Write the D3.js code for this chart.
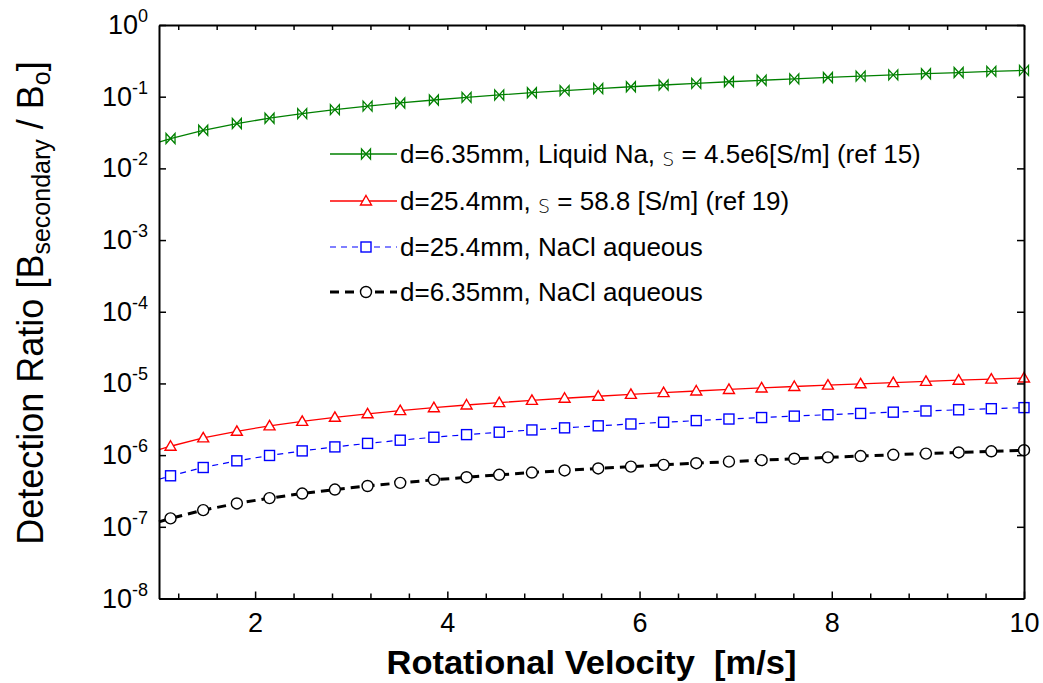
<!DOCTYPE html>
<html>
<head>
<meta charset="utf-8">
<script src="https://cdn.jsdelivr.net/npm/d3@7"></script>
<style>
  body { margin: 0; background: #fff; }
  svg { font-family: "Liberation Sans", Arial, sans-serif; }
</style>
</head>
<body>
<svg width="1043" height="683"></svg>
<script>
// Rotational velocity [m/s] of each plotted point (first one has no marker)
var velocity = [1.00, 1.12, 1.46, 1.81, 2.15, 2.49, 2.83, 3.17, 3.51, 3.86, 4.20, 4.54, 4.88, 5.22,
  5.57, 5.91, 6.25, 6.59, 6.93, 7.27, 7.61, 7.96, 8.30, 8.64, 8.98, 9.32, 9.66, 10.00];

// Detection ratio for each curve
var liquidNa = [0.0233, 0.0261, 0.0340, 0.0422, 0.0501, 0.0580, 0.0659, 0.0739, 0.0818, 0.0899,
  0.0979, 0.1058, 0.1137, 0.1216, 0.1298, 0.1377, 0.1456, 0.1535, 0.1615, 0.1694, 0.1773,
  0.1855, 0.1934, 0.2013, 0.2092, 0.2172, 0.2251, 0.2330];
var ref19 = [1.19e-6, 1.33e-6, 1.74e-6, 2.15e-6, 2.56e-6, 2.96e-6, 3.37e-6, 3.77e-6, 4.18e-6,
  4.59e-6, 5.00e-6, 5.40e-6, 5.81e-6, 6.21e-6, 6.63e-6, 7.03e-6, 7.44e-6, 7.84e-6, 8.25e-6,
  8.65e-6, 9.06e-6, 9.47e-6, 9.88e-6, 1.028e-5, 1.069e-5, 1.109e-5, 1.150e-5, 1.190e-5];
var nacl254 = [4.60e-7, 5.15e-7, 6.72e-7, 8.33e-7, 9.89e-7, 1.145e-6, 1.302e-6, 1.458e-6,
  1.615e-6, 1.776e-6, 1.932e-6, 2.088e-6, 2.245e-6, 2.401e-6, 2.562e-6, 2.719e-6, 2.875e-6,
  3.031e-6, 3.188e-6, 3.344e-6, 3.501e-6, 3.662e-6, 3.818e-6, 3.974e-6, 4.131e-6, 4.287e-6,
  4.444e-6, 4.600e-6];
var nacl635 = [1.170e-7, 1.310e-7, 1.708e-7, 2.118e-7, 2.516e-7, 2.913e-7, 3.311e-7, 3.709e-7,
  4.107e-7, 4.516e-7, 4.914e-7, 5.312e-7, 5.710e-7, 6.107e-7, 6.517e-7, 6.915e-7, 7.313e-7,
  7.710e-7, 8.108e-7, 8.506e-7, 8.904e-7, 9.313e-7, 9.711e-7, 1.011e-6, 1.051e-6, 1.090e-6,
  1.130e-6, 1.170e-6];

// Ticks
var xTickValues = [2, 4, 6, 8, 10];
var xMinorTickValues = [1.2, 1.6, 2.4, 2.8, 3.2, 3.6, 4.4, 4.8, 5.2, 5.6, 6.4, 6.8, 7.2, 7.6,
  8.4, 8.8, 9.2, 9.6];
var yTickExponents = [0, -1, -2, -3, -4, -5, -6, -7, -8];

// Legend entries (the conductivity symbol is drawn as a small thin S, as in the picture)
var legendPre = ["d=6.35mm, Liquid Na, ", "d=25.4mm, ", "d=25.4mm, NaCl aqueous", "d=6.35mm, NaCl aqueous"];
var legendSym = ["S", "S", "", ""];
var legendPost = [" = 4.5e6[S/m] (ref 15)", " = 58.8 [S/m] (ref 19)", "", ""];

//Select the SVG
var svg = d3.select("svg");
const margin = { top: 25, bottom: 84.5, left: 159, right: 19 };
const width = 1043, height = 683;

//Initialize the scales
const xScale = d3.scaleLinear().domain([1, 10]).range([margin.left, width - margin.right]);
const yScale = d3.scaleLog().domain([1e-8, 1]).range([height - margin.bottom, margin.top]);

//Series styles
const series = [
  { values: liquidNa, color: "#008000", width: 1.3, dash: null, marker: "bowtie" },
  { values: ref19, color: "#ff0000", width: 1.3, dash: null, marker: "triangle" },
  { values: nacl254, color: "#0000ff", width: 1.2, dash: "6,5", marker: "square" },
  { values: nacl635, color: "#000000", width: 3, dash: "9,6", marker: "circle" },
];

//Marker drawing helper
function drawMarker(g, type, color) {
  if (type === "bowtie") {
    g.append("path").attr("d", "M-4.5,-5L4.5,5L4.5,-5L-4.5,5Z")
      .attr("fill", "none").attr("stroke", color).attr("stroke-width", 1.3);
  } else if (type === "triangle") {
    g.append("path").attr("d", "M0,-5.5L5.5,4L-5.5,4Z")
      .attr("fill", "#fff").attr("stroke", color).attr("stroke-width", 1.4);
  } else if (type === "square") {
    g.append("rect").attr("x", -5).attr("y", -5).attr("width", 10).attr("height", 10)
      .attr("fill", "#fff").attr("stroke", color).attr("stroke-width", 1.4);
  } else {
    g.append("circle").attr("r", 5.5)
      .attr("fill", "#fff").attr("stroke", color).attr("stroke-width", 1.4);
  }
}

//Plot the lines and markers
const line = d3.line()
  .x((d, i) => xScale(velocity[i]))
  .y((d) => yScale(d));

series.forEach((s) => {
  svg.append("path")
    .datum(s.values)
    .attr("d", line)
    .attr("fill", "none")
    .attr("stroke", s.color)
    .attr("stroke-width", s.width)
    .attr("stroke-dasharray", s.dash);

  svg.selectAll(null)
    .data(s.values.slice(1).map((v, i) => ({ x: velocity[i + 1], y: v })))
    .join("g")
    .attr("transform", (d) => `translate(${xScale(d.x)},${yScale(d.y)})`)
    .each(function () { drawMarker(d3.select(this), s.marker, s.color); });
});

//Axes with inward ticks on all four sides
function styleAxis(g) {
  g.select(".domain").attr("stroke-width", 2);
  g.selectAll(".tick line").attr("stroke-width", 1.5);
}

svg.append("g")
  .attr("transform", `translate(0,${height - margin.bottom})`)
  .call(d3.axisBottom(xScale).tickValues(xTickValues).tickSize(-7).tickSizeOuter(0).tickPadding(14))
  .call(styleAxis)
  .call((g) => g.selectAll("text").attr("font-size", 27).attr("fill", "#000")
    .attr("font-family", "Liberation Sans, Arial, sans-serif"));

svg.append("g")
  .attr("transform", `translate(0,${height - margin.bottom})`)
  .call(d3.axisBottom(xScale).tickValues(xMinorTickValues).tickSize(-5).tickFormat(""))
  .call(styleAxis)
  .call((g) => g.select(".domain").remove());

svg.append("g")
  .attr("transform", `translate(0,${margin.top})`)
  .call(d3.axisTop(xScale).tickValues(xTickValues.concat(xMinorTickValues)).tickSize(-5).tickSizeOuter(0).tickFormat(""))
  .call(styleAxis);

svg.append("g")
  .attr("transform", `translate(${margin.left},0)`)
  .call(d3.axisLeft(yScale).tickValues(yTickExponents.map((e) => Math.pow(10, e))).tickSize(-7).tickSizeOuter(0).tickFormat(""))
  .call(styleAxis);

svg.append("g")
  .attr("transform", `translate(${width - margin.right},0)`)
  .call(d3.axisRight(yScale).tickValues(yTickExponents.map((e) => Math.pow(10, e))).tickSize(-7).tickSizeOuter(0).tickFormat(""))
  .call(styleAxis);

//Y tick labels as 10 with a superscript exponent
const yLabels = svg.selectAll(".y-label")
  .data(yTickExponents)
  .join("text")
  .attr("class", "y-label")
  .attr("text-anchor", "end")
  .attr("x", 148)
  .attr("y", (d) => yScale(Math.pow(10, d)) + 9);
yLabels.append("tspan").attr("font-size", 27).text("10");
yLabels.append("tspan").attr("font-size", 18).attr("dy", -12).text((d) => d);

//Axis titles
svg.append("text")
  .attr("x", (margin.left + width - margin.right) / 2)
  .attr("y", 674)
  .attr("text-anchor", "middle")
  .attr("font-size", 33)
  .attr("font-weight", "bold")
  .attr("textLength", 410)
  .attr("lengthAdjust", "spacingAndGlyphs")
  .text("Rotational Velocity  [m/s]")
  .attr("xml:space", "preserve");

const yTitle = svg.append("text")
  .attr("transform", "translate(43,303) rotate(-90)")
  .attr("text-anchor", "middle")
  .attr("font-size", 36);
yTitle.append("tspan").text("Detection Ratio [B");
yTitle.append("tspan").attr("font-size", 25).attr("dy", 7).text("secondary");
yTitle.append("tspan").attr("dy", -7).text(" / B");
yTitle.append("tspan").attr("font-size", 25).attr("dy", 7).text("o");
yTitle.append("tspan").attr("dy", -7).text("]");

//Legend
const legendRows = [154, 201, 247, 292];
const legend = svg.append("g").attr("class", "legend");
series.forEach((s, i) => {
  const row = legend.append("g").attr("transform", `translate(0,${legendRows[i]})`);
  row.append("line")
    .attr("x1", 330).attr("x2", 397)
    .attr("stroke", s.color)
    .attr("stroke-width", s.width)
    .attr("stroke-dasharray", s.dash);
  drawMarker(row.append("g").attr("transform", "translate(366,0)"), s.marker, s.color);
  const t = row.append("text").attr("x", 400).attr("y", 9).attr("font-size", 26);
  t.append("tspan").text(legendPre[i]).attr("xml:space", "preserve");
  if (legendSym[i]) {
    t.append("tspan").attr("font-size", 19).attr("font-family", "DejaVu Sans")
      .attr("font-weight", 200).attr("dy", 3).text(legendSym[i]);
    t.append("tspan").attr("dy", -3).text(legendPost[i]);
  }
});
</script>
</body>
</html>
